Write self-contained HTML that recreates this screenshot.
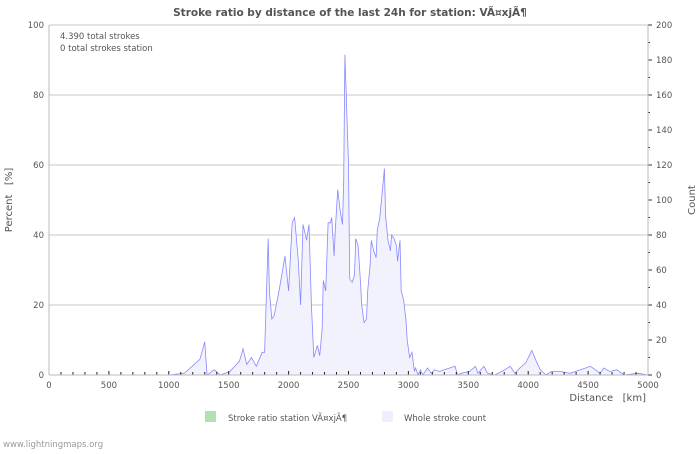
<!DOCTYPE html>
<html><head><meta charset="utf-8"><style>
body{margin:0;background:#fff;font-family:"DejaVu Sans","Liberation Sans",sans-serif;}
svg text{font-family:"DejaVu Sans","Liberation Sans",sans-serif;}
</style></head><body>
<svg id="c" width="700" height="450">
<text x="350" y="16" text-anchor="middle" font-size="10.5" font-weight="bold" fill="#555">Stroke ratio by distance of the last 24h for station: VÃ¤xjÃ¶</text>
<text x="60" y="39" font-size="8.5" fill="#555">4.390 total strokes</text>
<text x="60" y="51" font-size="8.5" fill="#555">0 total strokes station</text>
<text transform="translate(12,200) rotate(-90)" text-anchor="middle" font-size="10" fill="#555">Percent&#160;&#160;&#160;[%]</text>
<text transform="translate(695,200) rotate(-90)" text-anchor="middle" font-size="10" fill="#555">Count</text>
<text x="646" y="401" text-anchor="end" font-size="10" fill="#555">Distance&#160;&#160;&#160;[km]</text>
<g id="grid"></g><g id="series"></g><g id="axes"></g>
<rect x="205" y="411" width="11" height="11" fill="#b3e0b3"/>
<text x="228" y="421" font-size="8.5" fill="#555">Stroke ratio station VÃ¤xjÃ¶</text>
<rect x="382" y="411" width="11" height="11" fill="#eeeefc"/>
<text x="404" y="421" font-size="8.5" fill="#555">Whole stroke count</text>
<text x="3" y="447" font-size="8.5" fill="#999">www.lightningmaps.org</text>
</svg>
<script>
const distances=[0,1000,1130,1260,1300,1320,1380,1430,1510,1590,1620,1650,1690,1730,1780,1800,1830,1840,1860,1880,1920,1970,2000,2030,2050,2080,2100,2120,2150,2170,2190,2210,2240,2260,2280,2290,2310,2330,2350,2360,2380,2390,2410,2430,2450,2460,2470,2480,2500,2510,2530,2550,2560,2580,2600,2610,2630,2650,2660,2680,2690,2710,2730,2740,2760,2780,2800,2810,2830,2850,2860,2880,2900,2910,2930,2940,2960,2980,2990,3010,3030,3050,3060,3080,3100,3120,3160,3190,3220,3260,3300,3390,3410,3440,3510,3560,3580,3630,3660,3720,3780,3850,3890,3930,3980,4030,4060,4100,4150,4190,4270,4350,4520,4600,4630,4680,4740,4800,4920,5000];
const counts=[0,0,1,9,19,0,3,0,2,8,15,6,10,5,13,13,78,48,32,34,48,68,48,87,90,66,40,86,77,86,40,10,17,11,26,54,48,87,87,90,68,83,106,94,86,111,183,163,120,55,53,57,78,74,53,40,30,32,48,63,77,71,67,83,89,103,118,91,77,71,80,78,74,65,77,48,43,31,20,10,13,2,4,0,3,0,4,1,3,2,3,5,0,1,2,5,1,5,1,0,2,5,1,4,7,14,9,3,0,2,2,1,5,1,4,2,3,0,1,0];
const pctTicks=[0,20,40,60,80,100];
const countTicks=[0,20,40,60,80,100,120,140,160,180,200];
const xTicks=[0,500,1000,1500,2000,2500,3000,3500,4000,4500,5000];
const L=49,R=648,T=25,B=375;
const xs=d=>L+d/5000*(R-L);
const yp=p=>B-p/100*(B-T);
const yc=c=>B-c/200*(B-T);
const NS='http://www.w3.org/2000/svg';
function mk(tag,attrs,parent){const e=document.createElementNS(NS,tag);for(const k in attrs)e.setAttribute(k,attrs[k]);document.getElementById(parent).appendChild(e);return e;}
pctTicks.forEach(p=>{
 if(p>0){const g=mk('line',{x1:L,x2:R,y1:yp(p),y2:yp(p),stroke:'#c8c8c8','stroke-width':1},'grid');
 
 }
 const t=mk('text',{x:L-5,y:yp(p)+3,'text-anchor':'end','font-size':8.5,fill:'#555'},'axes');t.textContent=p;
 
 
});
countTicks.forEach(c=>{
 const t=mk('text',{x:R+8,y:yc(c)+3,'font-size':8.5,fill:'#555'},'axes');t.textContent=c;
 
 
 mk('line',{x1:R,x2:R+4,y1:yc(c),y2:yc(c),stroke:'#333'},'axes');
 if(c<200)mk('line',{x1:R,x2:R+2,y1:yc(c+10),y2:yc(c+10),stroke:'#333'},'axes');
});
xTicks.forEach(d=>{
 const t=mk('text',{x:xs(d),y:388,'text-anchor':'middle','font-size':8.5,fill:'#555'},'axes');t.textContent=d;
 
 
});
for(let d=0;d<=5000;d+=100){mk('line',{x1:xs(d),x2:xs(d),y1:B-(d%500?3:4),y2:B,stroke:'#222'},'axes');}
mk('line',{x1:L,x2:L,y1:T,y2:B,stroke:'#bbb'},'axes');
mk('line',{x1:R,x2:R,y1:T,y2:B,stroke:'#bbb'},'axes');
mk('line',{x1:L,x2:R,y1:B,y2:B,stroke:'#bbb'},'axes');
let pts=distances.map((d,i)=>xs(d).toFixed(1)+','+yc(counts[i]).toFixed(1));
const area=mk('polygon',{points:xs(distances[0])+','+B+' '+pts.join(' ')+' '+xs(distances[distances.length-1])+','+B,fill:'#f2f2fd'},'series');


const line=mk('polyline',{points:pts.join(' '),fill:'none',stroke:'#8888ff','stroke-width':0.8},'series');


</script>
</body></html>
